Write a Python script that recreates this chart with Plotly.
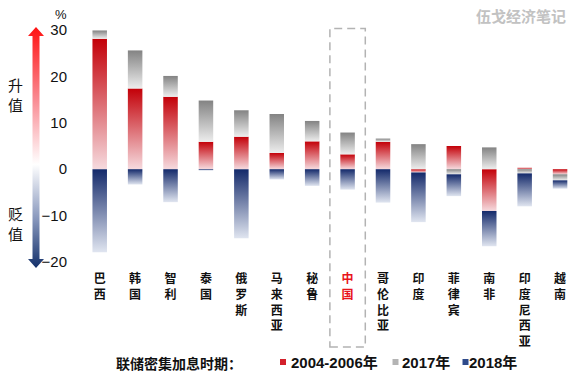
import base64
import plotly.graph_objects as go

# ---------------- data ----------------
countries = ["巴西", "韩国", "智利", "泰国", "俄罗斯", "马来西亚", "秘鲁", "中国",
             "哥伦比亚", "印度", "菲律宾", "南非", "印度尼西亚", "越南"]
s_2004_2006 = [28.1, 17.4, 15.6, 5.9, 7.0, 3.5, 6.0, 3.2, 5.9, -0.7, 5.0, -9.0, 0.3, -1.1]
s_2017 = [1.8, 8.2, 4.5, 8.9, 5.7, 8.4, 4.4, 4.7, 0.7, 5.4, -1.1, 4.7, -0.9, -1.3]
s_2018 = [-17.9, -3.3, -7.1, -0.3, -14.9, -2.2, -3.6, -4.4, -7.2, -10.7, -4.7, -7.6, -7.1, -1.8]
series_names = ["2004-2006年", "2017年", "2018年"]
y_ticks = [-20, -10, 0, 10, 20, 30]
highlight = "中国"

series = [s_2004_2006, s_2017, s_2018]
# gradient (light bottom -> dark top) for each series
grads = [("#f6dade", "#c30008"), ("#ededed", "#838383"), ("#e0e5f0", "#13296a")]
legend_colors = ["#d3202b", "#b4b4b4", "#2f4a8a"]

W, H = 576, 374
FONT_CJK = "Noto Sans CJK SC"
FONT_NUM = "Liberation Sans, Arial, Noto Sans CJK SC"

fig = go.Figure()

half = 0.205
pos_base = [0.0] * len(countries)
neg_base = [0.0] * len(countries)
for vals, (light, dark) in zip(series, grads):
    for i, v in enumerate(vals):
        if v == 0:
            continue
        if v > 0:
            lo, hi = pos_base[i], pos_base[i] + v
            pos_base[i] = hi
        else:
            hi, lo = neg_base[i], neg_base[i] + v
            neg_base[i] = lo
        fig.add_trace(go.Scatter(
            x=[i - half, i + half, i + half, i - half, i - half],
            y=[lo, lo, hi, hi, lo],
            mode="lines", line=dict(width=0, color=dark),
            fill="toself",
            fillgradient=dict(type="vertical", colorscale=[[0, light], [1, dark]],
                              start=lo, stop=hi),
            hoverinfo="skip", showlegend=False,
        ))

ticktext = []
for c in countries:
    if c == highlight:
        ticktext.append("<br>".join(f"<span style='color:#e8141c'>{ch}</span>" for ch in c))
    else:
        ticktext.append("<br>".join(c))

y_bot_px, y_top_px = 262, 30
fig.update_layout(
    width=W, height=H,
    margin=dict(l=0, r=0, t=0, b=0),
    paper_bgcolor="white", plot_bgcolor="white",
    showlegend=False,
    xaxis=dict(domain=[82 / W, 1], range=[-0.5, 13.45], automargin=False,
               tickmode="array", tickvals=list(range(len(countries))), ticktext=ticktext,
               showgrid=False, zeroline=False, showline=False,
               ticks="outside", ticklen=6, tickcolor="rgba(0,0,0,0)",
               tickfont=dict(family=FONT_CJK, size=12, color="#111", weight="bold")),
    yaxis=dict(domain=[(H - y_bot_px) / H, (H - y_top_px) / H], range=[-20, 30],
               automargin=False,
               tickmode="array", tickvals=y_ticks,
               showgrid=False, zeroline=False, showline=False,
               ticks="outside", ticklen=11, tickcolor="rgba(0,0,0,0)",
               tickfont=dict(family=FONT_NUM, size=15, color="#111")),
)

# dashed highlight box around China
ci = countries.index(highlight)
fig.add_shape(type="rect", xref="x", yref="paper", x0=ci - 0.5, x1=ci + 0.5,
              y0=1 - 347 / H, y1=1 - 28.5 / H,
              line=dict(color="#b3b3b3", width=1.5, dash="8px,5px"), fillcolor="rgba(0,0,0,0)")

# appreciation / depreciation arrow (SVG gradient)
svg = """<svg xmlns='http://www.w3.org/2000/svg' width='16' height='241' viewBox='0 0 16 241'>
<defs><linearGradient id='g' x1='0' y1='0' x2='0' y2='1'>
<stop offset='0' stop-color='#ff1212'/><stop offset='0.30' stop-color='#f98a92'/>
<stop offset='0.57' stop-color='#ffffff'/><stop offset='0.80' stop-color='#8595bb'/>
<stop offset='1' stop-color='#13306a'/></linearGradient></defs>
<polygon fill='url(#g)' points='8,0 16,9 11.5,9 11.5,232 16,232 8,241 0,232 4.5,232 4.5,9 0,9'/>
</svg>"""
src = "data:image/svg+xml;base64," + base64.b64encode(svg.encode()).decode()
fig.add_layout_image(source=src, xref="paper", yref="paper", x=28 / W, y=1 - 27 / H,
                     sizex=16 / W, sizey=241 / H, sizing="stretch",
                     xanchor="left", yanchor="top", layer="above")

def ann(text, x, y, size, color="#111", family=FONT_CJK, xanchor="center", weight="normal"):
    fig.add_annotation(text=text, xref="paper", yref="paper", x=x / W, y=1 - y / H,
                       xanchor=xanchor, yanchor="middle", showarrow=False,
                       font=dict(family=family, size=size, color=color, weight=weight))

ann("升<br>值", 15.5, 94, 15)
ann("贬<br>值", 15.5, 223, 15)
ann("%", 61, 14, 13, family=FONT_NUM)
ann("伍戈经济笔记", 521, 15, 15, color="#c2c2c2", weight="bold")

# legend
ann("联储密集加息时期：", 114, 363, 14, xanchor="left", weight="bold")
leg_sq = [280, 392.5, 462.5]
leg_tx = [288.5, 400, 466.5]
for name, col, sx, tx in zip(series_names, legend_colors, leg_sq, leg_tx):
    fig.add_shape(type="rect", xref="paper", yref="paper",
                  x0=sx / W, x1=(sx + 6) / W, y0=1 - 365 / H, y1=1 - 359 / H,
                  line=dict(width=0), fillcolor=col)
    ann(name, tx, 362, 15, xanchor="left", family=FONT_NUM + ", " + FONT_CJK, weight="bold")

fig.write_html("out.html", config={"displayModeBar": False},
               post_script="document.body.style.margin='0';document.body.style.overflow='hidden';")
